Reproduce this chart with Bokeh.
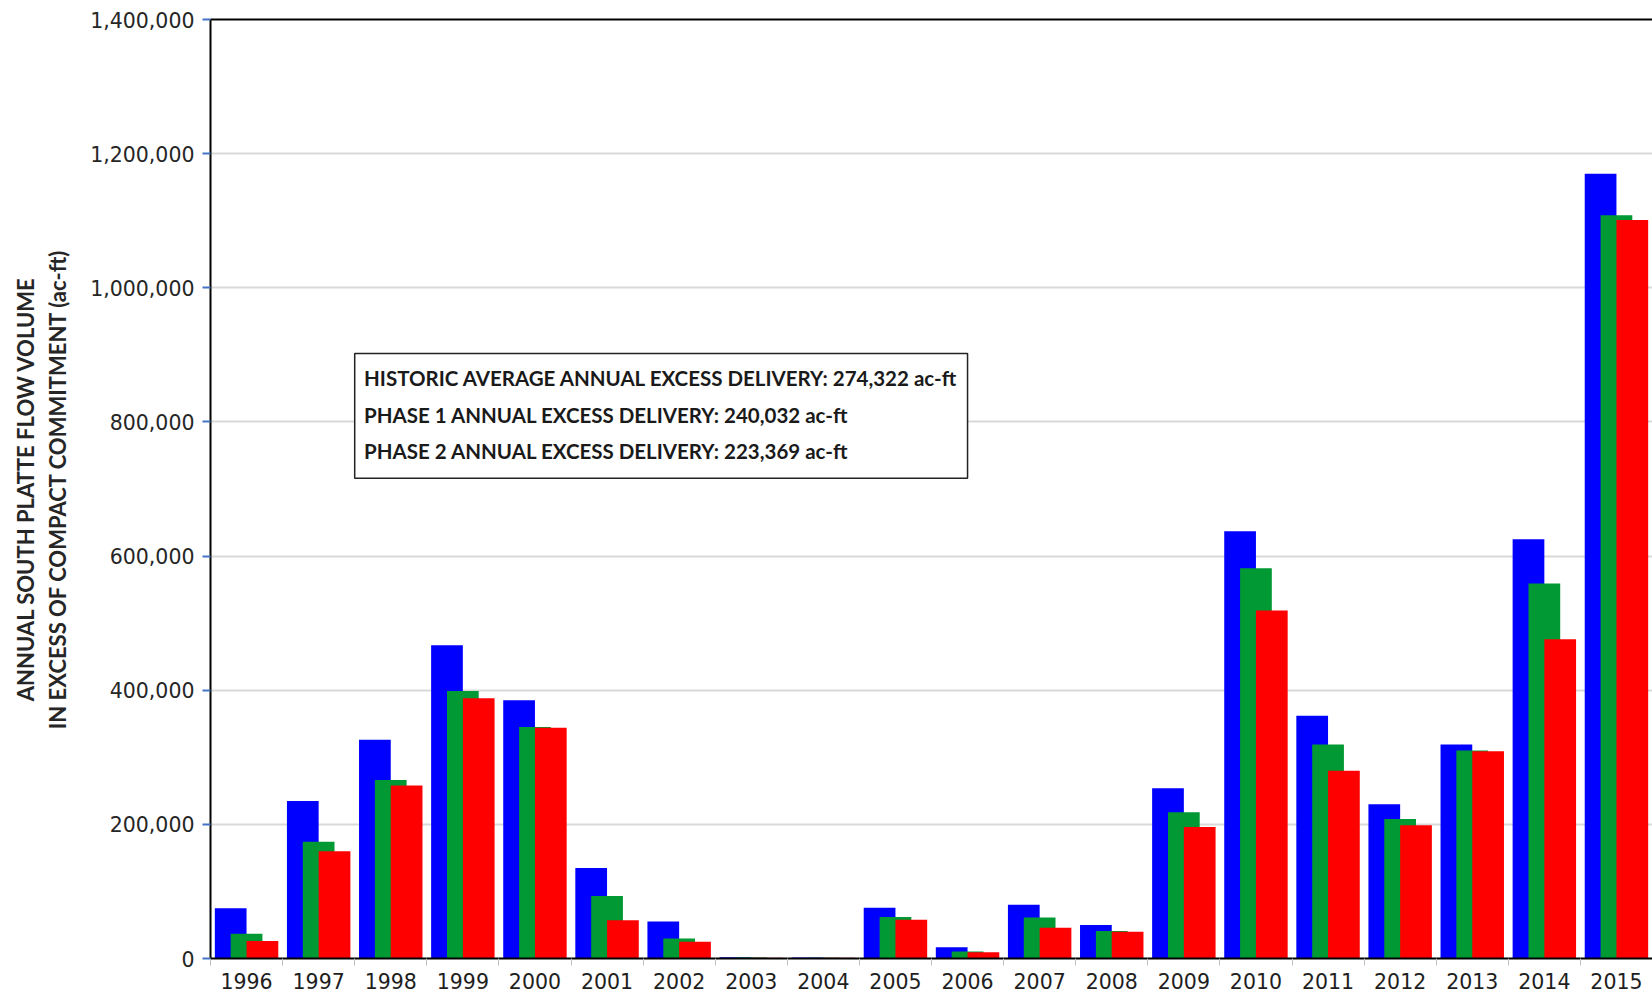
from bokeh.plotting import figure
from bokeh.models import (Range1d, FixedTicker, LinearAxis, NumeralTickFormatter,
                          Label, BoxAnnotation, ColumnDataSource)
from bokeh.embed import file_html
from bokeh.resources import INLINE

years = ["1996", "1997", "1998", "1999", "2000", "2001", "2002", "2003", "2004", "2005",
         "2006", "2007", "2008", "2009", "2010", "2011", "2012", "2013", "2014", "2015"]
historic = [75000, 235000, 326000, 467000, 385000, 135000, 55000, 2000, 1500, 75500,
            16800, 80000, 50000, 254000, 637000, 362000, 230000, 319000, 625000, 1170000]
phase1 = [37000, 174000, 266000, 399000, 345000, 93000, 30000, 1500, 1200, 62000,
          10400, 61000, 41000, 218000, 582000, 319000, 208000, 310000, 559000, 1108000]
phase2 = [26000, 160000, 258000, 388000, 344000, 57000, 25000, 1000, 1000, 57600,
          9400, 46000, 40000, 196000, 519000, 280000, 198500, 309000, 476000, 1101000]
box_lines = ["HISTORIC AVERAGE ANNUAL EXCESS DELIVERY: 274,322 ac-ft",
             "PHASE 1  ANNUAL EXCESS DELIVERY: 240,032 ac-ft",
             "PHASE 2  ANNUAL EXCESS DELIVERY: 223,369 ac-ft"]
y_ticks = [0, 200000, 400000, 600000, 800000, 1000000, 1200000, 1400000]

n = len(years)
centers = [i + 0.5 for i in range(n)]
bounds = [float(i) for i in range(n + 1)]

p = figure(width=1652, height=995, output_backend="svg", toolbar_location=None,
           x_range=Range1d(0, n), y_range=Range1d(0, 1400000),
           min_border_left=210, min_border_right=0, min_border_top=19, min_border_bottom=37)
p.outline_line_color = None
p.background_fill_color = "white"
p.border_fill_color = "white"

src = ColumnDataSource(dict(
    xb=[c - 0.22 for c in centers], xg=[c + 0.0 for c in centers], xr=[c + 0.22 for c in centers],
    hb=historic, hg=phase1, hr=phase2))
p.vbar(x="xb", top="hb", width=0.44, bottom=0, source=src, fill_color="#0000FF", line_color=None)
p.vbar(x="xg", top="hg", width=0.44, bottom=0, source=src, fill_color="#009933", line_color=None)
p.vbar(x="xr", top="hr", width=0.44, bottom=0, source=src, fill_color="#FF0000", line_color=None)

# x axis
xa = p.xaxis[0]
xa.ticker = FixedTicker(ticks=centers, minor_ticks=bounds)
xa.major_label_overrides = {c: y for c, y in zip(centers, years)}
xa.major_tick_line_color = None
xa.minor_tick_line_color = "#bfbfbf"
xa.minor_tick_out = 7
xa.minor_tick_in = 0
xa.axis_line_color = "black"
xa.axis_line_width = 2
xa.major_label_text_font = "DejaVu Sans"
xa.major_label_text_font_size = "20.5px"
xa.major_label_text_color = "#1e1e1e"
xa.major_label_standoff = 7

# y axis
ya = p.yaxis[0]
ya.ticker = FixedTicker(ticks=y_ticks)
ya.formatter = NumeralTickFormatter(format="0,0")
ya.major_tick_line_color = "#4472C4"
ya.major_tick_line_width = 2
ya.major_tick_out = 8
ya.major_tick_in = 0
ya.minor_tick_line_color = None
ya.axis_line_color = "black"
ya.axis_line_width = 2
ya.major_label_text_font = "DejaVu Sans"
ya.major_label_text_font_size = "20.5px"
ya.major_label_text_color = "#262626"
ya.major_label_standoff = 8
ya.axis_label = "ANNUAL SOUTH PLATTE FLOW VOLUME\nIN EXCESS OF COMPACT COMMITMENT (ac-ft)"
ya.axis_label_text_font = "Lato"
ya.axis_label_text_font_style = "bold"
ya.axis_label_text_font_size = "22px"
ya.axis_label_text_color = "#262626"
ya.axis_label_standoff = 16

# top border line
top = LinearAxis(ticker=FixedTicker(ticks=[]), axis_line_color="black", axis_line_width=2,
                 major_tick_line_color=None, minor_tick_line_color=None,
                 major_label_text_font_size="0px")
p.add_layout(top, "above")

p.xgrid.grid_line_color = None
p.ygrid.ticker = FixedTicker(ticks=y_ticks)
p.ygrid.grid_line_color = "#d9d9d9"
p.ygrid.grid_line_width = 2

# text box
p.add_layout(BoxAnnotation(left=2.0, right=10.5, top=902000, bottom=716000,
                           fill_color="white", fill_alpha=1.0,
                           line_color="#222222", line_width=1.5, line_alpha=1.0))
for txt, yv in zip(box_lines, [865000, 810000, 756000]):
    p.add_layout(Label(x=2.13, y=yv, text=txt, text_font="Lato", text_font_style="bold",
                       text_font_size="20.5px", text_color="#1a1a1a", text_baseline="middle"))

open("out.html", "w").write(file_html(p, INLINE))
